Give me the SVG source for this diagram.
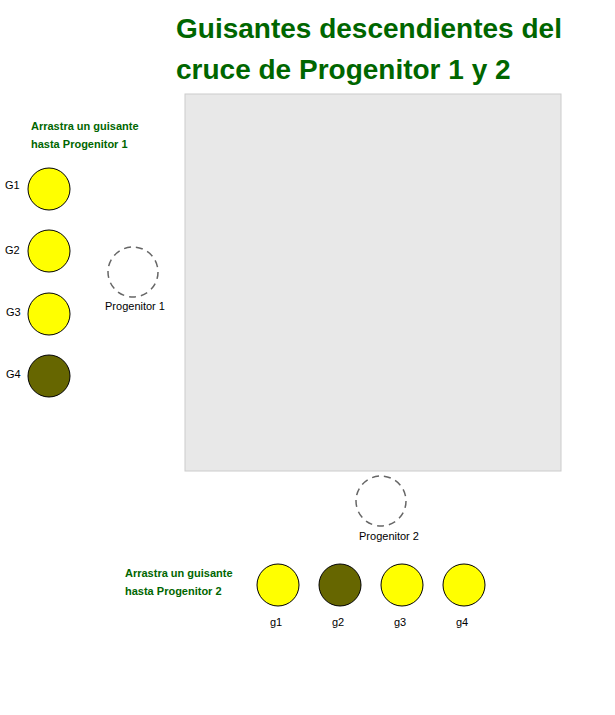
<svg xmlns="http://www.w3.org/2000/svg" width="615" height="715" viewBox="0 0 615 715">
<style>
text{font-family:"Liberation Sans",Arial,sans-serif}
.t{font-size:28px;font-weight:bold;fill:#006600}
.i{font-size:11px;font-weight:bold;fill:#006600}
.l{font-size:11px;fill:#000}
.y{fill:#ffff00;stroke:#000;stroke-width:1}
.d{fill:#666600;stroke:#000;stroke-width:1}
.s{fill:none;stroke:#666;stroke-width:1.5;stroke-dasharray:7,5}
</style>
<rect width="615" height="715" fill="#fff"/>
<g id="title"><text class="t" x="176" y="38">Guisantes descendientes del</text><text class="t" x="176" y="79">cruce de Progenitor 1 y 2</text></g>
<g id="board"><rect x="185" y="94" width="376" height="377" fill="#e8e8e8" stroke="#ccc"/></g>
<g id="instr1"><text class="i" x="31" y="130">Arrastra un guisante</text><text class="i" x="31" y="148">hasta Progenitor 1</text></g>
<g id="G1"><circle class="y" cx="49" cy="189" r="21"/><text class="l" x="5" y="189">G1</text></g>
<g id="G2"><circle class="y" cx="49" cy="251" r="21"/><text class="l" x="5" y="254">G2</text></g>
<g id="G3"><circle class="y" cx="49" cy="314" r="21"/><text class="l" x="6" y="316">G3</text></g>
<g id="G4"><circle class="d" cx="49" cy="376" r="21"/><text class="l" x="6" y="378">G4</text></g>
<g id="P1"><circle class="s" cx="133" cy="272" r="25"/><text class="l" x="135" y="310" text-anchor="middle">Progenitor 1</text></g>
<g id="P2"><circle class="s" cx="381" cy="501" r="25"/><text class="l" x="389" y="540" text-anchor="middle">Progenitor 2</text></g>
<g id="instr2"><text class="i" x="125" y="577">Arrastra un guisante</text><text class="i" x="125" y="595">hasta Progenitor 2</text></g>
<g id="g1"><circle class="y" cx="278" cy="585" r="21"/><text class="l" x="276" y="626" text-anchor="middle">g1</text></g>
<g id="g2"><circle class="d" cx="340" cy="585" r="21"/><text class="l" x="338" y="626" text-anchor="middle">g2</text></g>
<g id="g3"><circle class="y" cx="402" cy="585" r="21"/><text class="l" x="400" y="626" text-anchor="middle">g3</text></g>
<g id="g4"><circle class="y" cx="464" cy="585" r="21"/><text class="l" x="462" y="626" text-anchor="middle">g4</text></g>
<g id="connectors"/>
</svg>
